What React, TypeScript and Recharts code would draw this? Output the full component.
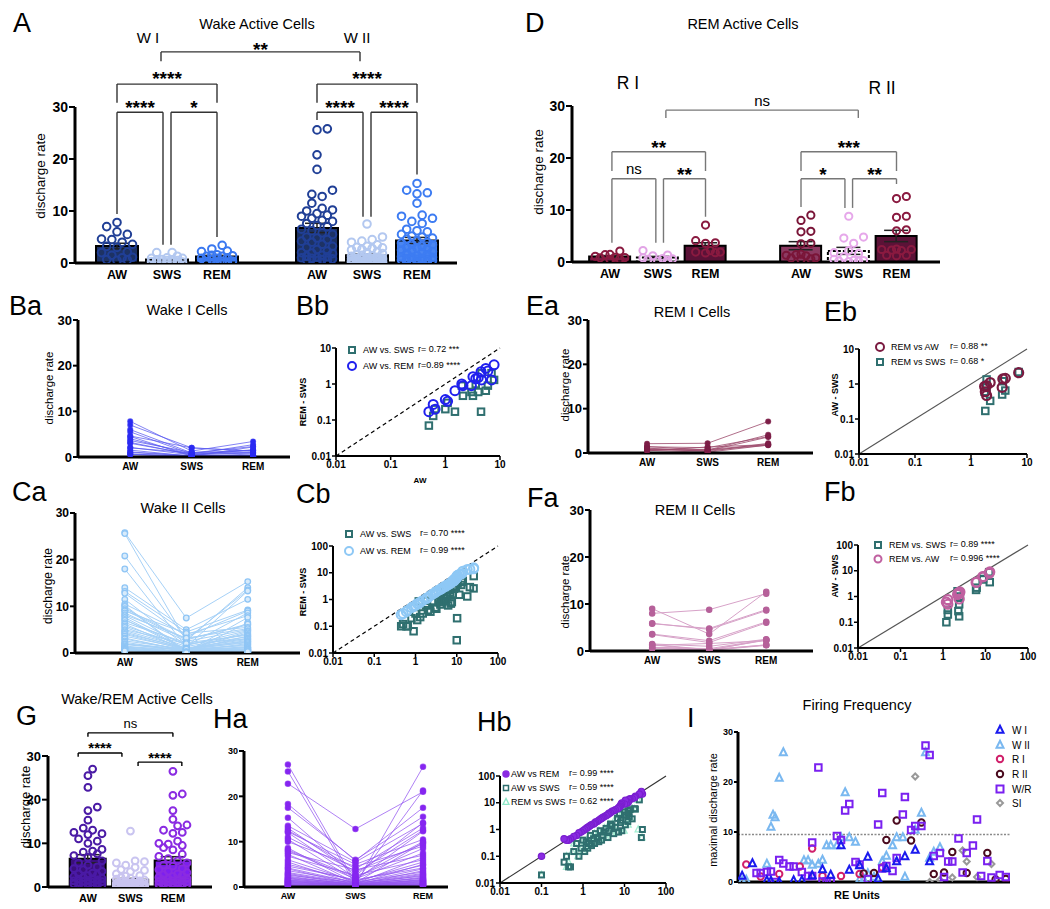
import React from 'react';
import {
  ComposedChart, LineChart, ScatterChart, Bar, Line, Scatter, XAxis, YAxis,
  ReferenceLine, ErrorBar, Cell,
} from 'recharts';

const W = 1050;
const H = 909;
const FONT = '"Liberation Sans", Arial, Helvetica, sans-serif';
const states = ['AW', 'SWS', 'REM'];

// discharge rate per cell, same cell order in every state
const wakeIAW = [0.5, 0.6, 0.65, 1.0, 1.1, 1.5, 2.0, 2.1, 3.0, 3.2, 3.6, 4.0, 4.5, 4.6, 5.5, 6.0, 7.0, 7.8];
const wakeISWS = [0.07, 0.13, 0.2, 0.2, 0.3, 0.17, 0.9, 0.47, 0.6, 0.47, 1.0, 0.6, 0.17, 2.0, 0.65, 0.9, 2.0, 1.3];
const wakeIREM = [0.17, 0.27, 0.2, 0.37, 0.33, 0.65, 1.0, 0.9, 0.9, 1.6, 1.4, 1.5, 2.2, 1.3, 2.7, 2.3, 1.3, 3.4];

const wakeIIAW = [25.8, 25.6, 20.8, 18.0, 14.0, 13.2, 12.8, 11.5, 10.5, 10.2, 10.0, 9.5, 9.2, 9.0, 8.6, 8.2, 8.0, 7.6, 7.2, 7.0, 6.5, 6.2, 5.8, 5.5, 5.0, 4.8, 4.5, 4.2, 4.0, 3.6, 3.2, 3.0, 2.6, 2.3, 2.0, 1.9, 1.8, 1.5, 1.3, 1.2, 1.1, 1.0, 0.9, 0.8, 0.65, 0.6, 0.5, 0.45];
const wakeIISWS = [7.5, 2.6, 2.9, 1.3, 5.0, 4.5, 3.5, 1.5, 4.0, 0.2, 0.03, 3.0, 2.8, 4.2, 2.5, 3.2, 1.6, 0.8, 0.7, 1.8, 2.2, 0.6, 1.4, 0.9, 2.0, 1.1, 0.8, 1.0, 0.65, 0.9, 0.45, 0.5, 0.8, 0.35, 0.4, 0.9, 0.6, 0.3, 0.22, 0.85, 0.17, 0.3, 0.065, 0.2, 0.1, 0.1, 0.12, 0.1];
const wakeIIREM = [15.3, 14.0, 13.5, 13.3, 11.5, 9.2, 9.0, 8.6, 8.0, 7.6, 6.5, 6.0, 6.2, 5.5, 5.0, 5.2, 4.8, 4.6, 4.3, 4.0, 3.8, 3.6, 3.5, 3.2, 3.0, 2.9, 2.7, 2.5, 2.4, 2.2, 2.0, 1.8, 1.6, 1.4, 1.2, 1.1, 1.1, 0.9, 0.8, 0.7, 0.7, 0.6, 0.55, 0.5, 0.4, 0.35, 0.3, 0.27];

const remIAW = [0.6, 0.85, 0.47, 0.9, 1.1, 0.8, 1.4, 1.45, 2.1];
const remISWS = [0.17, 0.6, 1.35, 0.8, 0.33, 0.5, 1.2, 0.65, 2.2];
const remIREM = [1.8, 1.75, 1.9, 1.9, 2.2, 3.6, 3.7, 4.1, 7.1];

const remIIAW = [9.0, 8.0, 5.8, 5.9, 3.6, 3.5, 1.5, 1.3, 1.4, 1.2, 0.75, 0.6, 0.8, 0.5];
const remIISWS = [3.6, 8.8, 4.8, 4.6, 2.2, 1.8, 1.0, 0.17, 0.27, 1.6, 0.3, 0.1, 0.5, 0.2];
const remIIREM = [12.6, 12.2, 8.8, 8.6, 6.2, 6.0, 2.5, 2.4, 2.3, 2.2, 1.3, 1.2, 2.4, 1.3];

const wrAW = [27.0, 25.5, 22.8, 18.3, 17.5, 15.3, 13.5, 13.0, 12.5, 12.2, 12.0, 11.0, 10.5, 10.0, 8.6, 8.2, 8.0, 7.6, 7.2, 6.8, 6.0, 5.5, 5.0, 4.6, 4.2, 4.0, 3.6, 3.2, 3.0, 2.8, 2.6, 2.4, 2.2, 2.0, 1.9, 1.8, 1.6, 1.5, 1.4, 1.3, 1.2, 1.1, 1.0, 0.9, 0.8, 0.7, 0.6, 0.5, 0.45, 0.4, 0.35, 0.1];
const wrSWS = [1.0, 0.5, 12.8, 5.8, 6.0, 2.5, 5.5, 3.0, 4.0, 5.0, 2.0, 3.5, 1.5, 4.5, 0.9, 2.2, 1.8, 3.8, 0.8, 2.6, 1.2, 0.7, 1.4, 1.6, 0.9, 0.5, 1.1, 0.8, 0.6, 0.4, 0.9, 0.35, 0.5, 0.7, 0.3, 0.45, 0.25, 0.6, 0.3, 0.2, 0.35, 0.15, 0.4, 0.2, 0.1, 0.3, 0.15, 0.04, 0.04, 0.1, 0.06, 0.02];
const wrREM = [21.3, 26.5, 21.0, 17.5, 15.5, 14.2, 14.0, 12.5, 13.0, 10.5, 10.0, 9.5, 12.3, 9.0, 9.8, 8.5, 7.5, 7.0, 6.5, 6.0, 5.5, 5.0, 4.8, 4.2, 4.0, 3.6, 3.3, 3.0, 2.8, 2.6, 2.4, 2.2, 2.0, 1.9, 1.7, 1.6, 1.5, 1.4, 1.3, 1.2, 1.1, 1.0, 0.9, 0.8, 0.75, 0.6, 0.55, 0.45, 0.4, 0.4, 0.45, 0.1];

// panel I: [RE unit index, maximal discharge rate]
const fireWI = [[1, 1.2], [6, 3.7], [13, 0.3], [15, 0.2], [19, 0], [26, 0.3], [30, 0.3], [35, 1.3], [40, 2.5], [44, 1.4], [49, 7.3], [53, 2.4], [58, 3.3], [62, 5.0], [67, 0.6], [71, 2.7], [76, 4.1], [80, 5.1], [85, 6.4], [92, 4.1]];
const fireWII = [[1, 0.2], [3, 0.4], [13, 3.6], [15, 11.0], [16, 13.4], [17, 12.9], [19, 20.8], [21, 25.9], [31, 4.3], [33, 4.3], [35, 3.4], [38, 3.6], [40, 4.4], [42, 7.3], [44, 7.3], [47, 7.3], [49, 8.9], [51, 17.9], [53, 8.9], [56, 8.0], [58, 0.5], [60, 0.5], [62, 1.7], [65, 1.0], [69, 4.1], [71, 5.2], [74, 7.3], [76, 8.9], [79, 8.9], [80, 1.0], [85, 10.4], [88, 13.8], [90, 25.9], [92, 4.8], [94, 6.0], [97, 6.9]];
const fireRI = [[3, 3.5], [10, 1.1], [19, 1.6], [29, 3.1], [35, 6.7], [40, 1.2], [49, 1.2], [58, 1.6], [69, 2.9]];
const fireRII = [[60, 1.7], [65, 1.8], [71, 8.4], [76, 12.3], [83, 8.3], [88, 11.9], [94, 1.6], [99, 1.9], [103, 6.0], [110, 1.8], [120, 5.8], [124, 0.5], [129, 0.6]];
const fireWR = [[8, 1.8], [10, 1.8], [13, 2.0], [15, 2.1], [17, 0], [19, 4.4], [21, 3.7], [24, 3.1], [26, 3.1], [30, 2.0], [33, 1.2], [35, 1.2], [35, 7.9], [38, 22.9], [40, 0.1], [42, 0.1], [44, 0.1], [47, 9.2], [49, 8.4], [51, 14.3], [53, 15.6], [56, 4.0], [58, 3.5], [62, 0.6], [67, 11.5], [69, 17.8], [69, 2.7], [71, 3.2], [74, 2.2], [76, 4.8], [79, 13.5], [80, 17.0], [83, 10.4], [85, 11.2], [88, 11.2], [90, 27.3], [92, 25.4], [94, 5.2], [97, 5.8], [99, 1.0], [101, 4.1], [103, 4.1], [106, 8.7], [108, 1.9], [110, 5.8], [113, 7.3], [115, 12.5], [117, 1.2], [120, 4.2], [122, 0.9], [126, 1.4], [129, 1.0]];
const fireSI = [[85, 21.1], [92, 0], [97, 0.4], [103, 0.9], [108, 6.3], [110, 4.1], [115, 1.0], [122, 3.6]];

type Box = { x0: number; x1: number; y0: number; y1: number };
type Group = { x: number; label: string; values: number[]; fill: string; dot: string; dash?: boolean };
type Bracket = { a: number; b: number; y: number; la: number; lb: number; text: string; off: number };

const frame = (b: Box, yw: number, xh: number) => ({
  top: b.y0, left: b.x0 - yw, right: W - b.x1, bottom: H - b.y1 - xh,
});

const mean = (a: number[]) => a.reduce((s, v) => s + v, 0) / a.length;
const sem = (a: number[]) => {
  const m = mean(a);
  return Math.sqrt(a.reduce((s, v) => s + (v - m) ** 2, 0) / (a.length - 1)) / Math.sqrt(a.length);
};

// spreads points sideways so they don't sit on top of each other (beeswarm)
function swarm(values: number[], pxY: number, pxX: number, diam: number, half: number) {
  const placed: { x: number; y: number }[] = [];
  const step = diam * 0.6;
  const cands = [0];
  for (let k = 1; k * step <= half; k++) cands.push(k * step, -k * step);
  return [...values].sort((a, b) => a - b).map((v) => {
    const y = v * pxY;
    let best = 0;
    let bestD = -1;
    for (const c of cands) {
      let d = Infinity;
      for (const p of placed) d = Math.min(d, Math.hypot(p.x - c, p.y - y));
      if (d >= diam) { best = c; break; }
      if (d > bestD) { bestD = d; best = c; }
    }
    placed.push({ x: best, y });
    return { dx: best / pxX, y: v };
  });
}

const ring = (stroke: string, r: number, sw = 2, fill = 'none') => (p: any) =>
  <circle cx={p.cx} cy={p.cy} r={r} fill={fill} stroke={stroke} strokeWidth={sw} />;
const square = (stroke: string, s: number, sw = 2, fill = 'none') => (p: any) =>
  <rect x={p.cx - s / 2} y={p.cy - s / 2} width={s} height={s} fill={fill} stroke={stroke} strokeWidth={sw} />;
const tri = (stroke: string, s: number, sw = 2, fill = 'none') => (p: any) =>
  <path d={`M${p.cx},${p.cy - s * 0.6}L${p.cx + s / 2},${p.cy + s * 0.4}L${p.cx - s / 2},${p.cy + s * 0.4}Z`} fill={fill} stroke={stroke} strokeWidth={sw} />;
const diamond = (stroke: string, s: number, sw = 2) => (p: any) =>
  <path d={`M${p.cx},${p.cy - s / 2}L${p.cx + s / 2},${p.cy}L${p.cx},${p.cy + s / 2}L${p.cx - s / 2},${p.cy}Z`} fill="none" stroke={stroke} strokeWidth={sw} />;

const Layer = ({ children }: { children: React.ReactNode }) => (
  <div style={{ position: 'absolute', left: 0, top: 0, width: W, height: H }}>{children}</div>
);

const axisLine = (w: number) => ({ stroke: '#000', strokeWidth: w });
const tickStyle = (fs: number) => ({ fontSize: fs, fontWeight: 700, fill: '#000' });

function bracketLines(b: Bracket, key: string, color: string, starFs: number, nsFs: number) {
  const st = { stroke: color, strokeWidth: 1.4, ifOverflow: 'visible' as const, xAxisId: 'num' };
  const ns = b.text === 'ns';
  return [
    <ReferenceLine key={key + 'a'} segment={[{ x: b.a, y: b.la }, { x: b.a, y: b.y }]} {...st} />,
    <ReferenceLine key={key + 'm'} segment={[{ x: b.a, y: b.y }, { x: b.b, y: b.y }]} {...st}
      label={{ value: b.text, position: 'top', offset: b.off, fontSize: ns ? nsFs : starFs, fontWeight: ns ? 400 : 700, fill: '#000' }} />,
    <ReferenceLine key={key + 'b'} segment={[{ x: b.b, y: b.y }, { x: b.b, y: b.lb }]} {...st} />,
  ];
}

// bars sit on a category axis of evenly spaced slots; the dots and brackets use a hidden
// numeric axis laid over the same pixels (slot k is centred on x = k)
function BarPanel({ box, xDomain, groups, brackets, barSize, r, xFs, yFs, axisW, bracketColor, starFs, nsFs }: {
  box: Box; xDomain: [number, number]; groups: Group[]; brackets: Bracket[]; barSize: number; r: number;
  xFs: number; yFs: number; axisW: number; bracketColor: string; starFs: number; nsFs: number;
}) {
  const pxX = (box.x1 - box.x0) / (xDomain[1] - xDomain[0]);
  const pxY = (box.y1 - box.y0) / 30;
  const n = Math.max(...groups.map((g) => g.x));
  const rows = Array.from({ length: n }, (_, i) => {
    const g = groups.find((gg) => gg.x === i + 1);
    return { slot: i + 1, label: g ? g.label : '', mean: g ? mean(g.values) : null, sem: g ? sem(g.values) : null, g };
  });
  const padL = (0.5 - xDomain[0]) * pxX;
  const padR = (xDomain[1] - (n + 0.5)) * pxX;
  return (
    <Layer>
      <ComposedChart width={W} height={H} data={rows} margin={frame(box, axisW, 22)}>
        <XAxis xAxisId="cat" type="category" dataKey="slot" padding={{ left: padL, right: padR }} interval={0}
          tickFormatter={(v: number) => rows[v - 1]?.label ?? ''} tickLine={false} tickSize={4} tickMargin={3}
          axisLine={axisLine(3)} tick={tickStyle(xFs)} height={22} />
        <XAxis xAxisId="num" type="number" dataKey="x" domain={xDomain} allowDataOverflow hide />
        <YAxis type="number" domain={[0, 30]} ticks={[0, 10, 20, 30]} allowDataOverflow width={axisW} axisLine={axisLine(3)}
          tickLine={{ stroke: '#000', strokeWidth: 2 }} tickSize={6} tickMargin={1} tick={tickStyle(yFs)} />
        <Bar xAxisId="cat" dataKey="mean" barSize={barSize} isAnimationActive={false} stroke="#000" strokeWidth={2}>
          {rows.map((row, i) => (
            <Cell key={i} fill={row.g ? row.g.fill : 'none'} strokeDasharray={row.g?.dash ? '3 2' : undefined} />
          ))}
          <ErrorBar dataKey="sem" direction="y" width={12} stroke="#222" strokeWidth={1.5} />
        </Bar>
        {groups.map((g, i) => (
          <Scatter key={i} xAxisId="num" data={swarm(g.values, pxY, pxX, 2 * r + 1, barSize / 2 - 2).map((p) => ({ x: g.x + p.dx, y: p.y }))}
            dataKey="y" isAnimationActive={false} shape={ring(g.dot, r)} />
        ))}
        {brackets.flatMap((b, i) => bracketLines(b, 'b' + i, bracketColor, starFs, nsFs))}
      </ComposedChart>
    </Layer>
  );
}

function PairPanel({ box, xDomain, aw, sws, rem, line, dot, dotFill, r, xFs, yFs, axisW, lineOpacity = 1 }: {
  box: Box; xDomain: [number, number]; aw: number[]; sws: number[]; rem: number[]; line: string; dot: string;
  dotFill: string; r: number; xFs: number; yFs: number; axisW: number; lineOpacity?: number;
}) {
  const rows = [aw, sws, rem].map((vals, k) => {
    const row: Record<string, number> = { x: k + 1 };
    vals.forEach((v, i) => { row['c' + i] = v; });
    return row;
  });
  return (
    <Layer>
      <LineChart width={W} height={H} data={rows} margin={frame(box, axisW, 20)}>
        <XAxis type="number" dataKey="x" domain={xDomain} allowDataOverflow ticks={[1, 2, 3]} interval={0}
          tickFormatter={(v: number) => states[v - 1]} tickLine={false} tickSize={4} tickMargin={2} axisLine={axisLine(3)} tick={tickStyle(xFs)} height={20} />
        <YAxis type="number" domain={[0, 30]} ticks={[0, 10, 20, 30]} allowDataOverflow width={axisW} axisLine={axisLine(3)}
          tickLine={{ stroke: '#000', strokeWidth: 2 }} tickSize={5} tickMargin={1} tick={tickStyle(yFs)} />
        {aw.map((_, i) => (
          <Line key={i} dataKey={'c' + i} stroke={line} strokeOpacity={lineOpacity} strokeWidth={1} isAnimationActive={false}
            dot={{ r, fill: dotFill, stroke: dot, strokeWidth: 1.3 }} activeDot={false} />
        ))}
      </LineChart>
    </Layer>
  );
}

type Series = { data: { x: number; y: number }[]; shape: (p: any) => React.ReactElement };

function LogPanel({ box, max, series, diag }: { box: Box; max: number; series: Series[]; diag: { stroke: string; dash?: string } }) {
  const ticks = max === 10 ? [0.01, 0.1, 1, 10] : [0.01, 0.1, 1, 10, 100];
  return (
    <Layer>
      <ScatterChart width={W} height={H} margin={frame(box, 30, 16)}>
        <XAxis type="number" dataKey="x" scale="log" domain={[0.01, max]} ticks={ticks} allowDataOverflow interval={0}
          tickFormatter={(v: number) => String(v)} axisLine={axisLine(2)} tickLine={{ stroke: '#000', strokeWidth: 1.5 }}
          tickSize={4} tickMargin={1} tick={tickStyle(10)} height={16} />
        <YAxis type="number" dataKey="y" scale="log" domain={[0.01, max]} ticks={ticks} allowDataOverflow interval={0}
          tickFormatter={(v: number) => String(v)} axisLine={axisLine(2)} tickLine={{ stroke: '#000', strokeWidth: 1.5 }}
          tickSize={4} tickMargin={1} tick={tickStyle(10)} width={30} />
        <ReferenceLine segment={[{ x: 0.01, y: 0.01 }, { x: max, y: max }]} stroke={diag.stroke} strokeWidth={1.2}
          strokeDasharray={diag.dash} ifOverflow="visible" />
        {series.map((s, i) => (
          <Scatter key={i} data={s.data} dataKey="y" isAnimationActive={false} shape={s.shape} />
        ))}
      </ScatterChart>
    </Layer>
  );
}

const pairs = (xs: number[], ys: number[]) => xs.map((x, i) => ({ x, y: ys[i] })).filter((p) => p.x > 0 && p.y > 0);
const pts = (a: number[][]) => a.map(([x, y]) => ({ x, y }));

// ---------- colours ----------
const navy = '#1d3264';
const teal = '#2f6f6f';

const groupsA: Group[] = [
  { x: 1, label: 'AW', values: wakeIAW, fill: navy, dot: '#203f96' },
  { x: 2, label: 'SWS', values: wakeISWS, fill: '#b8cbef', dot: '#b3c8f0' },
  { x: 3, label: 'REM', values: wakeIREM, fill: '#3f7cf2', dot: '#3a78f0' },
  { x: 5, label: 'AW', values: wakeIIAW, fill: navy, dot: '#203f96' },
  { x: 6, label: 'SWS', values: wakeIISWS, fill: '#b8cbef', dot: '#b3c8f0' },
  { x: 7, label: 'REM', values: wakeIIREM, fill: '#4a86f2', dot: '#3d7cf2' },
];
const bracketsA: Bracket[] = [
  { a: 1, b: 1.92, y: 29, la: 9.4, lb: 3.5, text: '****', off: -1.5 },
  { a: 2.08, b: 3, y: 29, la: 3.5, lb: 5, text: '*', off: -1.5 },
  { a: 1, b: 3, y: 34.4, la: 30.8, lb: 30.8, text: '****', off: -0.5 },
  { a: 5, b: 5.92, y: 29, la: 27.5, lb: 8.9, text: '****', off: -1.5 },
  { a: 6.08, b: 7, y: 29, la: 8.9, lb: 17, text: '****', off: -1.5 },
  { a: 5, b: 7, y: 34.4, la: 30.8, lb: 30.8, text: '****', off: -0.5 },
  { a: 1.88, b: 5.86, y: 40.6, la: 38.8, lb: 38.8, text: '**', off: -4.5 },
];

const groupsD: Group[] = [
  { x: 1, label: 'AW', values: remIAW, fill: '#7a1b48', dot: '#8a1a40' },
  { x: 2, label: 'SWS', values: remISWS, fill: '#ffffff', dot: '#e2a4e6', dash: true },
  { x: 3, label: 'REM', values: remIREM, fill: '#5b1237', dot: '#8a1a40' },
  { x: 5, label: 'AW', values: remIIAW, fill: '#8c3a62', dot: '#7a1538' },
  { x: 6, label: 'SWS', values: remIISWS, fill: '#ffffff', dot: '#e6a8ea', dash: true },
  { x: 7, label: 'REM', values: remIIREM, fill: '#5b1237', dot: '#8a1a40' },
];
const bracketsD: Bracket[] = [
  { a: 1.04, b: 1.96, y: 16, la: 3.7, lb: 3.7, text: 'ns', off: 5 },
  { a: 2.12, b: 3, y: 16, la: 3.7, lb: 8.7, text: '**', off: -2.5 },
  { a: 1.04, b: 3, y: 21.2, la: 17.5, lb: 17.5, text: '**', off: -2.5 },
  { a: 5, b: 5.92, y: 16, la: 10.6, lb: 10.4, text: '*', off: -2.5 },
  { a: 6.08, b: 7, y: 16, la: 10.4, lb: 15, text: '**', off: -2.5 },
  { a: 5, b: 7, y: 21.2, la: 17.5, lb: 17.5, text: '***', off: -2.5 },
  { a: 2.17, b: 6.2, y: 29.2, la: 27.7, lb: 27.7, text: 'ns', off: 4 },
];

const groupsG: Group[] = [
  { x: 1, label: 'AW', values: wrAW, fill: '#3b0f7d', dot: '#4a1aa5' },
  { x: 2, label: 'SWS', values: wrSWS, fill: '#c9c4f0', dot: '#c9c4f0' },
  { x: 3, label: 'REM', values: wrREM, fill: '#7d1ff0', dot: '#8a2be2' },
];
const bracketsG: Bracket[] = [
  { a: 0.77, b: 1.8, y: 30.7, la: 29.8, lb: 29.8, text: '****', off: 0 },
  { a: 2.18, b: 3.21, y: 28.6, la: 27.7, lb: 27.7, text: '****', off: -1 },
  { a: 1, b: 3, y: 35.3, la: 34.4, lb: 34.4, text: 'ns', off: 5 },
];

// ---------- text overlay ----------
const T = ({ x, y, s, children, anchor = 'middle', w = 400, rot = false }: {
  x: number; y: number; s: number; children: React.ReactNode; anchor?: string; w?: number; rot?: boolean;
}) => (
  <text x={x} y={y} fontSize={s} fontWeight={w} textAnchor={anchor as any} dominantBaseline="central" fill="#000"
    transform={rot ? `rotate(-90 ${x} ${y})` : undefined}>{children}</text>
);

function LegendRow({ x, y, mark, label, r, rx, s = 9, gap = 11 }: {
  x: number; y: number; mark: React.ReactNode; label: string; r: string; rx: number; s?: number; gap?: number;
}) {
  return (
    <g>
      <g transform={`translate(${x},${y})`}>{mark}</g>
      <T x={x + gap} y={y} s={s} anchor="start">{label}</T>
      <T x={rx} y={y - 1} s={s} anchor="start">{r}</T>
    </g>
  );
}

const mk = {
  sq: (c: string, s = 6, sw = 2) => <rect x={-s / 2} y={-s / 2} width={s} height={s} fill="none" stroke={c} strokeWidth={sw} />,
  ci: (c: string, r = 3.5, sw = 2, f = 'none') => <circle r={r} fill={f} stroke={c} strokeWidth={sw} />,
  tr: (c: string, s = 7, sw = 2) => <path d={`M0,${-s * 0.6}L${s / 2},${s * 0.4}L${-s / 2},${s * 0.4}Z`} fill="none" stroke={c} strokeWidth={sw} />,
  di: (c: string, s = 7, sw = 2) => <path d={`M0,${-s / 2}L${s / 2},0L0,${s / 2}L${-s / 2},0Z`} fill="none" stroke={c} strokeWidth={sw} />,
};

function Overlay() {
  return (
    <svg width={W} height={H} style={{ position: 'absolute', left: 0, top: 0, pointerEvents: 'none' }}>
      {/* panel letters */}
      <T x={13} y={23} s={27} anchor="start">A</T>
      <T x={525} y={23} s={27} anchor="start">D</T>
      <T x={9} y={306} s={27} anchor="start">Ba</T>
      <T x={296} y={306} s={27} anchor="start">Bb</T>
      <T x={526} y={306} s={27} anchor="start">Ea</T>
      <T x={824} y={312} s={27} anchor="start">Eb</T>
      <T x={12} y={492} s={27} anchor="start">Ca</T>
      <T x={296} y={494} s={27} anchor="start">Cb</T>
      <T x={527} y={498} s={27} anchor="start">Fa</T>
      <T x={824} y={492} s={27} anchor="start">Fb</T>
      <T x={16} y={716} s={27} anchor="start">G</T>
      <T x={213} y={719} s={27} anchor="start">Ha</T>
      <T x={477} y={722} s={27} anchor="start">Hb</T>
      <T x={687} y={718} s={27} anchor="start">I</T>

      {/* titles */}
      <T x={257} y={24} s={14.5}>Wake Active Cells</T>
      <T x={148} y={37} s={15}>W I</T>
      <T x={357} y={37} s={15}>W II</T>
      <T x={743} y={24} s={14.5}>REM Active Cells</T>
      <T x={628} y={83} s={17.5}>R I</T>
      <T x={882} y={88} s={17.5}>R II</T>
      <T x={187} y={310} s={14.5}>Wake I Cells</T>
      <T x={692} y={312} s={14.5}>REM I Cells</T>
      <T x={183} y={508} s={14.5}>Wake II Cells</T>
      <T x={695} y={510} s={14.5}>REM II Cells</T>
      <T x={137} y={699} s={14.5}>Wake/REM Active Cells</T>
      <T x={857} y={705} s={14.5}>Firing Frequency</T>
      <T x={857} y={895} s={11} w={700}>RE Units</T>
      <T x={420} y={480} s={8} w={700}>AW</T>

      {/* axis titles */}
      <T x={40} y={176} s={13.5} rot>discharge rate</T>
      <T x={538} y={172} s={13.5} rot>discharge rate</T>
      <T x={49} y={388} s={11.5} rot>discharge rate</T>
      <T x={565} y={385} s={11.5} rot>discharge rate</T>
      <T x={48} y={586} s={12} rot>discharge rate</T>
      <T x={565} y={592} s={11.5} rot>discharge rate</T>
      <T x={25} y={807} s={13} rot>discharge rate</T>
      <T x={713} y={810} s={11} rot>maximal discharge rate</T>
      <T x={303} y={402} s={9} w={700} rot>REM - SWS</T>
      <T x={303} y={592} s={9} w={700} rot>REM - SWS</T>
      <T x={835} y={395} s={9} w={700} rot>AW - SWS</T>
      <T x={835} y={576} s={9} w={700} rot>AW - SWS</T>

      {/* scatter legends */}
      <LegendRow x={352} y={350} mark={mk.sq(teal, 6)} label="AW vs. SWS" r="r= 0.72 ***" rx={418} />
      <LegendRow x={352} y={366} mark={mk.ci('#2020ee', 4)} label="AW vs. REM" r="r=0.89 ****" rx={418} />
      <LegendRow x={880} y={347} mark={mk.ci('#7a1a40', 4)} label="REM vs AW" r="r= 0.88 **" rx={950} />
      <LegendRow x={880} y={362} mark={mk.sq(teal, 6)} label="REM vs SWS" r="r= 0.68 *" rx={950} />
      <LegendRow x={349} y={534} mark={mk.sq(teal, 6)} label="AW vs. SWS" r="r= 0.70 ****" rx={420} />
      <LegendRow x={349} y={551} mark={mk.ci('#8ec8f5', 4)} label="AW vs. REM" r="r= 0.99 ****" rx={420} />
      <LegendRow x={878} y={545} mark={mk.sq(teal, 6)} label="REM vs. SWS" r="r= 0.89 ****" rx={950} />
      <LegendRow x={878} y={559} mark={mk.ci('#c060a0', 3.5)} label="REM vs. AW" r="r= 0.996 ****" rx={950} />
      <LegendRow x={506} y={774} mark={mk.ci('#8a2be2', 3, 1.5, '#8a2be2')} label="AW vs REM" r="r= 0.99 ****" rx={569} s={9} gap={5} />
      <LegendRow x={506} y={788} mark={mk.sq(teal, 5, 1.5)} label="AW vs SWS" r="r= 0.59 ****" rx={569} s={9} gap={5} />
      <LegendRow x={506} y={802} mark={mk.tr('#8de8c8', 6, 1.3)} label="REM vs SWS" r="r= 0.62 ****" rx={569} s={9} gap={5} />

      {/* firing legend */}
      <g transform="translate(1000,730)">{mk.tr('#1a1aee', 7)}</g><T x={1012} y={730} s={10} anchor="start">W I</T>
      <g transform="translate(1000,745)">{mk.tr('#7ab8f0', 7)}</g><T x={1012} y={745} s={10} anchor="start">W II</T>
      <g transform="translate(1000,759)">{mk.ci('#d0206a', 3.2)}</g><T x={1012} y={759} s={10} anchor="start">R I</T>
      <g transform="translate(1000,774)">{mk.ci('#4a0a1e', 3.2)}</g><T x={1012} y={774} s={10} anchor="start">R II</T>
      <g transform="translate(1000,789)">{mk.sq('#7a20f0', 7)}</g><T x={1012} y={789} s={10} anchor="start">W/R</T>
      <g transform="translate(1000,803)">{mk.di('#999', 6)}</g><T x={1012} y={803} s={10} anchor="start">SI</T>
    </svg>
  );
}

export default function App() {
  return (
    <div style={{ position: 'absolute', left: 0, top: 0, width: W, height: H, background: '#fff', fontFamily: FONT, overflow: 'hidden' }}>
      <BarPanel box={{ x0: 75, x1: 457, y0: 107, y1: 263 }} xDomain={[0.16, 7.8]} groups={groupsA} brackets={bracketsA}
        barSize={42} r={3.8} xFs={12.5} yFs={14} axisW={36} bracketColor="#333" starFs={19} nsFs={15} />
      <BarPanel box={{ x0: 572, x1: 940, y0: 106, y1: 262 }} xDomain={[0.204, 7.911]} groups={groupsD} brackets={bracketsD}
        barSize={41} r={3.6} xFs={12.5} yFs={14} axisW={36} bracketColor="#777" starFs={19} nsFs={15} />
      <BarPanel box={{ x0: 48, x1: 212, y0: 756, y1: 887 }} xDomain={[0.06, 3.92]} groups={groupsG} brackets={bracketsG}
        barSize={36} r={3.4} xFs={11} yFs={13} axisW={30} bracketColor="#000" starFs={15} nsFs={13} />

      <PairPanel box={{ x0: 78, x1: 290, y0: 320, y1: 457 }} xDomain={[0.15, 3.6]} aw={wakeIAW} sws={wakeISWS} rem={wakeIREM}
        line="#5a5af0" lineOpacity={0.75} dot="#2b2bf2" dotFill="#2b2bf2" r={2.4} xFs={10} yFs={13} axisW={34} />
      <PairPanel box={{ x0: 75, x1: 300, y0: 513, y1: 653 }} xDomain={[0.19, 3.85]} aw={wakeIIAW} sws={wakeIISWS} rem={wakeIIREM}
        line="#a6d1f7" dot="#8fc5f5" dotFill="#d8ebfb" r={2.8} xFs={10} yFs={12} axisW={30} />
      <PairPanel box={{ x0: 588, x1: 813, y0: 320, y1: 453 }} xDomain={[0.025, 3.74]} aw={remIAW} sws={remISWS} rem={remIREM}
        line="#9c4a6c" lineOpacity={0.8} dot="#7c1d46" dotFill="#7c1d46" r={2.4} xFs={10} yFs={13} axisW={34} />
      <PairPanel box={{ x0: 590, x1: 813, y0: 510, y1: 651 }} xDomain={[-0.09, 3.82]} aw={remIIAW} sws={remIISWS} rem={remIIREM}
        line="#d7a2c8" dot="#b6619a" dotFill="#b6619a" r={2.6} xFs={10} yFs={13} axisW={34} />
      <PairPanel box={{ x0: 244, x1: 448, y0: 751, y1: 887 }} xDomain={[0.35, 3.37]} aw={wrAW} sws={wrSWS} rem={wrREM}
        line="#9457f0" lineOpacity={0.75} dot="#8526f0" dotFill="#8526f0" r={2.6} xFs={9} yFs={9} axisW={20} />

      <LogPanel box={{ x0: 336, x1: 500, y0: 348, y1: 456 }} max={10} diag={{ stroke: '#000', dash: '4 3' }} series={[
        { data: pairs(wakeIAW, wakeISWS), shape: square(teal, 6.5, 2) },
        { data: pairs(wakeIAW, wakeIREM), shape: ring('#2020ee', 4.5, 2) },
      ]} />
      <LogPanel box={{ x0: 333, x1: 498, y0: 546, y1: 653 }} max={100} diag={{ stroke: '#000', dash: '4 3' }} series={[
        { data: pairs(wakeIIAW, wakeIISWS), shape: square(teal, 6.5, 2) },
        { data: pairs(wakeIIAW, wakeIIREM), shape: ring('#8ec8f5', 4.5, 2) },
      ]} />
      <LogPanel box={{ x0: 859, x1: 1027, y0: 349, y1: 454 }} max={10} diag={{ stroke: '#555' }} series={[
        { data: pairs(remIREM, remISWS), shape: square(teal, 6.5, 2) },
        { data: pairs(remIREM, remIAW), shape: ring('#7a1a40', 4.5, 2.2) },
      ]} />
      <LogPanel box={{ x0: 858, x1: 1028, y0: 545, y1: 648 }} max={100} diag={{ stroke: '#555' }} series={[
        { data: pairs(remIIREM, remIISWS), shape: square(teal, 6.5, 2) },
        { data: pairs(remIIREM, remIIAW), shape: ring('#c060a0', 4.5, 2.2) },
      ]} />
      <LogPanel box={{ x0: 500, x1: 666, y0: 776, y1: 883 }} max={100} diag={{ stroke: '#333' }} series={[
        { data: pairs(wrREM, wrSWS), shape: tri('#a4efd2', 6, 1.3) },
        { data: pairs(wrAW, wrSWS), shape: square(teal, 5, 2) },
        { data: pairs(wrAW, wrREM), shape: ring('#7a1fd0', 3.2, 1.2, '#8a2be2') },
      ]} />

      <Layer>
        <ScatterChart width={W} height={H} margin={frame({ x0: 738, x1: 1010, y0: 732, y1: 882 }, 22, 4)}>
          <XAxis type="number" dataKey="x" domain={[-1, 131]} allowDataOverflow tick={false} tickLine={false} axisLine={axisLine(3)} height={4} />
          <YAxis type="number" dataKey="y" domain={[0, 30]} ticks={[0, 10, 20, 30]} allowDataOverflow width={22} axisLine={axisLine(3)}
            tickLine={{ stroke: '#000', strokeWidth: 2 }} tickSize={4} tickMargin={1} tick={tickStyle(9)} />
          <ReferenceLine y={9.5} stroke="#8a8a8a" strokeDasharray="2 1.5" strokeWidth={1.5} />
          <Scatter data={pts(fireWII)} dataKey="y" isAnimationActive={false} shape={tri('#7ab8f0', 7, 2)} />
          <Scatter data={pts(fireSI)} dataKey="y" isAnimationActive={false} shape={diamond('#999', 6, 2)} />
          <Scatter data={pts(fireRI)} dataKey="y" isAnimationActive={false} shape={ring('#d0206a', 3.2, 2)} />
          <Scatter data={pts(fireRII)} dataKey="y" isAnimationActive={false} shape={ring('#4a0a1e', 3.2, 2)} />
          <Scatter data={pts(fireWR)} dataKey="y" isAnimationActive={false} shape={square('#7a20f0', 6.5, 2)} />
          <Scatter data={pts(fireWI)} dataKey="y" isAnimationActive={false} shape={tri('#1a1aee', 7, 2)} />
        </ScatterChart>
      </Layer>

      <Overlay />
    </div>
  );
}
